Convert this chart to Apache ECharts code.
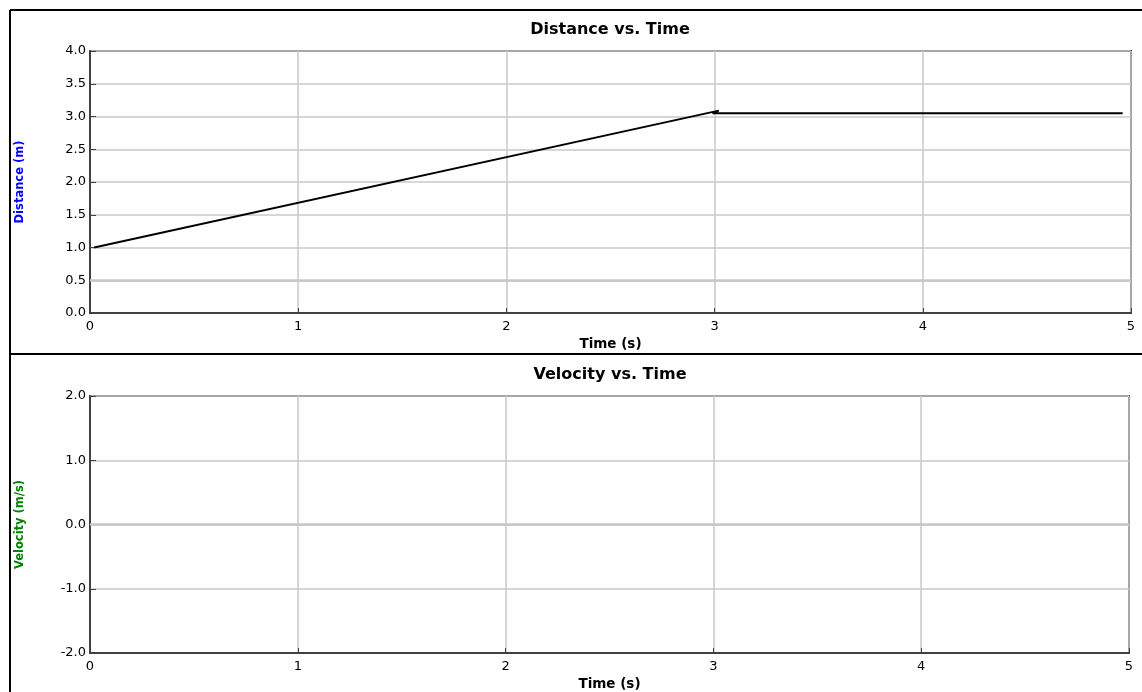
<!DOCTYPE html>
<html>
<head>
<meta charset="utf-8">
<script src="https://cdn.jsdelivr.net/npm/echarts@6/dist/echarts.min.js"></script>
<style>html,body{margin:0;padding:0;background:#fff;}#c{width:1142px;height:692px;}</style>
</head>
<body>
<div id="c"></div>
<script>
// Data
var distanceTime = [0.02, 3.02, 2.99, 4.96];
var distanceVals = [1.00, 3.09, 3.05, 3.05];
var velocityTime = [];
var velocityVals = [];
var timeTicks = [0, 1, 2, 3, 4, 5];
var distanceTicks = [0, 0.5, 1, 1.5, 2, 2.5, 3, 3.5, 4];
var velocityTicks = [-2, -1, 0, 1, 2];

var chart = echarts.init(document.getElementById('c'), null, {renderer: 'canvas'});
var FONT = 'DejaVu Sans';
var axisDark = '#404040';
var gridGray = '#c8c8c8';

function pairs(xs, ys) { return xs.map(function (x, i) { return [x, ys[i]]; }); }

function xAx(gi) {
  return {
    type: 'value', gridIndex: gi, min: timeTicks[0], max: timeTicks[timeTicks.length - 1], interval: 1,
    name: 'Time (s)', nameLocation: 'middle', nameGap: 24,
    nameTextStyle: {fontFamily: FONT, fontWeight: 'bold', fontSize: 13.5, color: '#000'},
    axisLine: {show: true, onZero: false, lineStyle: {color: axisDark, width: 2}},
    axisTick: {show: true, inside: true, length: 5, lineStyle: {color: axisDark}},
    axisLabel: {fontFamily: FONT, fontSize: 13, color: '#000', margin: 7},
    splitLine: {show: true, lineStyle: {color: gridGray, width: 1.5}}
  };
}
function yAx(gi, ticks, name, color) {
  return {
    type: 'value', gridIndex: gi, min: ticks[0], max: ticks[ticks.length - 1], interval: ticks[1] - ticks[0],
    name: name, nameLocation: 'middle', nameGap: 64, nameRotate: 90,
    nameTextStyle: {fontFamily: FONT, fontWeight: 'bold', fontSize: 11.5, color: color},
    axisLine: {show: true, onZero: false, lineStyle: {color: axisDark, width: 2}},
    axisTick: {show: true, inside: true, length: 6, lineStyle: {color: axisDark}},
    axisLabel: {fontFamily: FONT, fontSize: 13, color: '#000', margin: 4,
      formatter: function (v) { return v.toFixed(1); }},
    splitLine: {show: true, lineStyle: {color: gridGray, width: 1.5}}
  };
}

chart.setOption({
  animation: false,
  backgroundColor: '#fff',
  title: [
    {text: 'Distance vs. Time', left: 610, top: 22, textAlign: 'center', padding: 0,
     textStyle: {fontFamily: FONT, fontWeight: 'bold', fontSize: 16, color: '#000'}},
    {text: 'Velocity vs. Time', left: 610, top: 367, textAlign: 'center', padding: 0,
     textStyle: {fontFamily: FONT, fontWeight: 'bold', fontSize: 16, color: '#000'}}
  ],
  grid: [
    {left: 90, right: 11, top: 51, bottom: 379, show: true, borderColor: axisDark, borderWidth: 2, backgroundColor: '#fff'},
    {left: 90, right: 13, top: 396, bottom: 38, show: true, borderColor: axisDark, borderWidth: 2, backgroundColor: '#fff'}
  ],
  xAxis: [xAx(0), xAx(1)],
  yAxis: [
    yAx(0, distanceTicks, 'Distance (m)', '#0000ff'),
    yAx(1, velocityTicks, 'Velocity (m/s)', '#008000')
  ],
  graphic: [
    {type: 'line', silent: true, shape: {x1: 10, y1: 10, x2: 1142, y2: 10}, style: {stroke: '#000', lineWidth: 2}},
    {type: 'line', silent: true, shape: {x1: 10, y1: 10, x2: 10, y2: 692}, style: {stroke: '#000', lineWidth: 2}},
    {type: 'line', silent: true, shape: {x1: 10, y1: 354, x2: 1142, y2: 354}, style: {stroke: '#000', lineWidth: 2}}
  ],
  series: [
    {type: 'line', xAxisIndex: 0, yAxisIndex: 0, data: pairs(distanceTime, distanceVals),
     showSymbol: false, lineStyle: {color: '#000', width: 2}, itemStyle: {color: '#000'}, z: 5,
     markLine: {silent: true, symbol: 'none', label: {show: false},
       lineStyle: {color: gridGray, width: 2.5, type: 'solid'}, data: [{yAxis: 0.5}], z: 1}},
    {type: 'line', xAxisIndex: 1, yAxisIndex: 1, data: pairs(velocityTime, velocityVals),
     showSymbol: false, lineStyle: {color: '#000', width: 2},
     markLine: {silent: true, symbol: 'none', label: {show: false},
       lineStyle: {color: gridGray, width: 2.5, type: 'solid'}, data: [{yAxis: 0}], z: 1}}
  ]
});
</script>
</body>
</html>
